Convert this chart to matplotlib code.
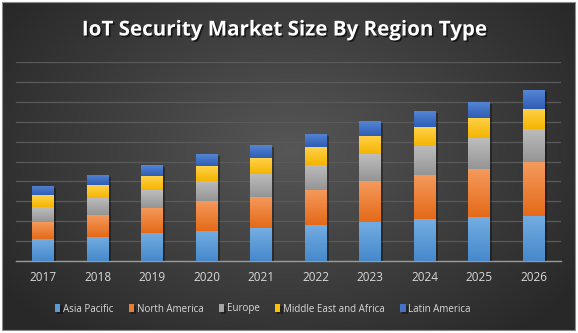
import numpy as np
import matplotlib
matplotlib.use('Agg')
import matplotlib.pyplot as plt
from matplotlib.colors import LinearSegmentedColormap
from matplotlib.patches import Rectangle
import matplotlib.patheffects as pe

years = ['2017', '2018', '2019', '2020', '2021', '2022', '2023', '2024', '2025', '2026']
asia_pacific = [1.11, 1.22, 1.41, 1.51, 1.64, 1.81, 1.97, 2.10, 2.21, 2.28]
north_america = [0.85, 1.09, 1.27, 1.51, 1.59, 1.76, 2.06, 2.23, 2.41, 2.70]
europe = [0.74, 0.87, 0.89, 1.02, 1.16, 1.27, 1.34, 1.46, 1.54, 1.66]
middle_east_africa = [0.60, 0.62, 0.70, 0.75, 0.80, 0.87, 0.92, 0.95, 1.04, 1.01]
latin_america = [0.47, 0.52, 0.55, 0.59, 0.64, 0.67, 0.74, 0.80, 0.79, 0.95]

series = [
    ('Asia Pacific', asia_pacific, '#5B9BD5', '#74ADE2', '#4689CC'),
    ('North America', north_america, '#ED7D31', '#F59A5C', '#E46A18'),
    ('Europe', europe, '#A5A5A5', '#BDBDBD', '#959595'),
    ('Middle East and Africa', middle_east_africa, '#FFC000', '#FFD24A', '#F5B400'),
    ('Latin America', latin_america, '#4472C4', '#5585D4', '#2E5DB4'),
]

W, H = 578, 333
fig = plt.figure(figsize=(W / 100, H / 100), dpi=100)
fig.patch.set_facecolor('white')

# dark panel with radial gradient
bg = fig.add_axes([0, 0, 1, 1], zorder=0)
bg.set_xlim(0, W)
bg.set_ylim(H, 0)
bg.axis('off')
yy, xx = np.mgrid[0:H, 0:W]
r = np.sqrt(((xx - 289) / 330.0) ** 2 + ((yy - 150) / 230.0) ** 2)
shade = np.clip(0.34 - 0.17 * r, 0.16, 0.34)
img = np.dstack([shade, shade, shade])
bg.imshow(img, extent=[2, 575, 330, 2], aspect='auto', interpolation='bilinear')
bg.add_patch(Rectangle((2, 2), 573, 328, fill=False, edgecolor='#8c8c8c', linewidth=0.8))

ax = fig.add_axes([16 / W, 1 - 261 / H, 545 / W, 199 / H], zorder=1)
ax.patch.set_alpha(0)
x = np.arange(len(years))
bottom = np.zeros(len(years))
handles = []
for name, vals, col, light, dark in series:
    bars = ax.bar(x, vals, 0.4, bottom=bottom, color=col, label=name, zorder=3,
                  path_effects=[pe.SimplePatchShadow(offset=(1.5, -1.5), shadow_rgbFace='black', alpha=0.35), pe.Normal()])
    cmap = LinearSegmentedColormap.from_list(name, [dark, light])
    grad = np.linspace(0, 1, 64).reshape(-1, 1)
    for b in bars:
        x0, y0 = b.get_x(), b.get_y()
        im = ax.imshow(grad, extent=[x0, x0 + b.get_width(), y0, y0 + b.get_height()],
                       origin='lower', aspect='auto', cmap=cmap, zorder=4)
        im.set_clip_path(b)
    handles.append(bars)
    bottom += np.array(vals)

ax.set_xlim(-0.5, 9.5)
ax.set_ylim(0, 10)
ax.set_yticks(np.arange(0, 11, 1))
ax.yaxis.grid(True, color='#5a5a5a', linewidth=0.9, zorder=0)
ax.set_axisbelow(True)
ax.set_yticklabels([])
ax.tick_params(axis='y', length=0)
ax.set_xticks(x)
ax.set_xticklabels(years, fontsize=8.5, color='#d9d9d9', family='Open Sans')
ax.tick_params(axis='x', length=0, pad=7)
for s in ['top', 'right', 'left']:
    ax.spines[s].set_visible(False)
ax.spines['bottom'].set_color('#9a9a9a')
ax.spines['bottom'].set_linewidth(1.0)

fig.text(284 / W, 1 - 30 / H, 'IoT Security Market Size By Region Type', ha='center', va='center',
         fontsize=14.8, fontweight='bold', color='white', family='Open Sans',
         path_effects=[pe.withSimplePatchShadow(offset=(1.2, -1.2), shadow_rgbFace='black', alpha=0.6)])

leg = fig.legend(handles=[h for h in handles], labels=[s[0] for s in series], loc='center',
                 bbox_to_anchor=(263 / W, 1 - 309 / H), ncol=5, frameon=False,
                 handlelength=0.55, handleheight=0.9, handletextpad=0.3, columnspacing=1.55,
                 prop={'family': 'Open Sans', 'size': 7})
for t in leg.get_texts():
    t.set_color('#d9d9d9')

fig.savefig('out.png', dpi=100, facecolor=fig.get_facecolor())
